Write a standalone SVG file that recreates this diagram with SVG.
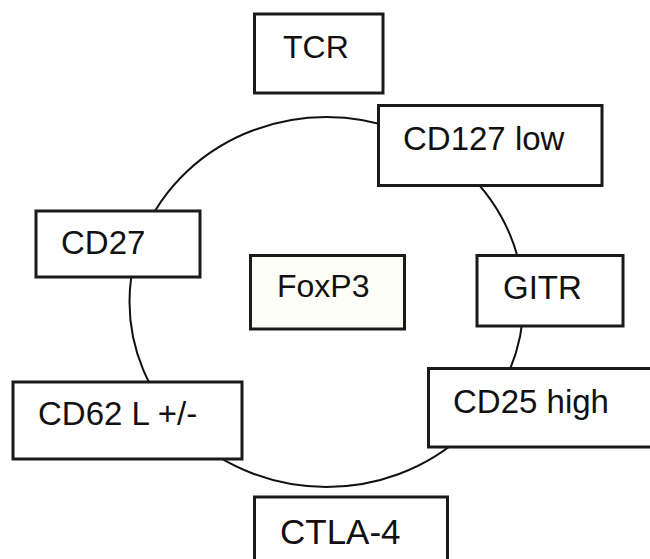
<svg xmlns="http://www.w3.org/2000/svg" width="650" height="559" viewBox="0 0 650 559">
<style>
.box{fill:#ffffff;stroke:#1a1a1a;stroke-width:3}
.lbl{font-family:"Liberation Sans",Arial,sans-serif;font-size:33px;fill:#111111}
.ring{fill:none;stroke:#111111;stroke-width:2}
</style>
<rect width="650" height="559" fill="#ffffff"/>
<g id="connectors">
<ellipse class="ring" cx="326.5" cy="302" rx="197" ry="185"/>
</g>
<g id="node-tcr">
<rect class="box" x="254.5" y="14" width="128.5" height="79"/>
<text class="lbl" x="283" y="58" style="font-size:32px">TCR</text>
</g>
<g id="node-cd127">
<rect class="box" x="378.5" y="105.5" width="223.5" height="80"/>
<text class="lbl" x="403" y="150">CD127 low</text>
</g>
<g id="node-cd27">
<rect class="box" x="36" y="211" width="164" height="66"/>
<text class="lbl" x="61" y="254">CD27</text>
</g>
<g id="node-foxp3">
<rect class="box" x="250.5" y="255.5" width="154" height="73.5" style="fill:#fefef9"/>
<text class="lbl" x="277" y="297" style="font-size:32px">FoxP3</text>
</g>
<g id="node-gitr">
<rect class="box" x="477" y="255.5" width="146" height="70.5"/>
<text class="lbl" x="503" y="299">GITR</text>
</g>
<g id="node-cd25">
<rect class="box" x="428.5" y="368.5" width="230" height="78.5"/>
<text class="lbl" x="453" y="413">CD25 high</text>
</g>
<g id="node-cd62l">
<rect class="box" x="13" y="382" width="229" height="77"/>
<text class="lbl" x="38" y="425">CD62 L +/-</text>
</g>
<g id="node-ctla4">
<rect class="box" x="254.5" y="497" width="193" height="70"/>
<text class="lbl" x="280" y="544" style="font-size:35px">CTLA-4</text>
</g>
</svg>
